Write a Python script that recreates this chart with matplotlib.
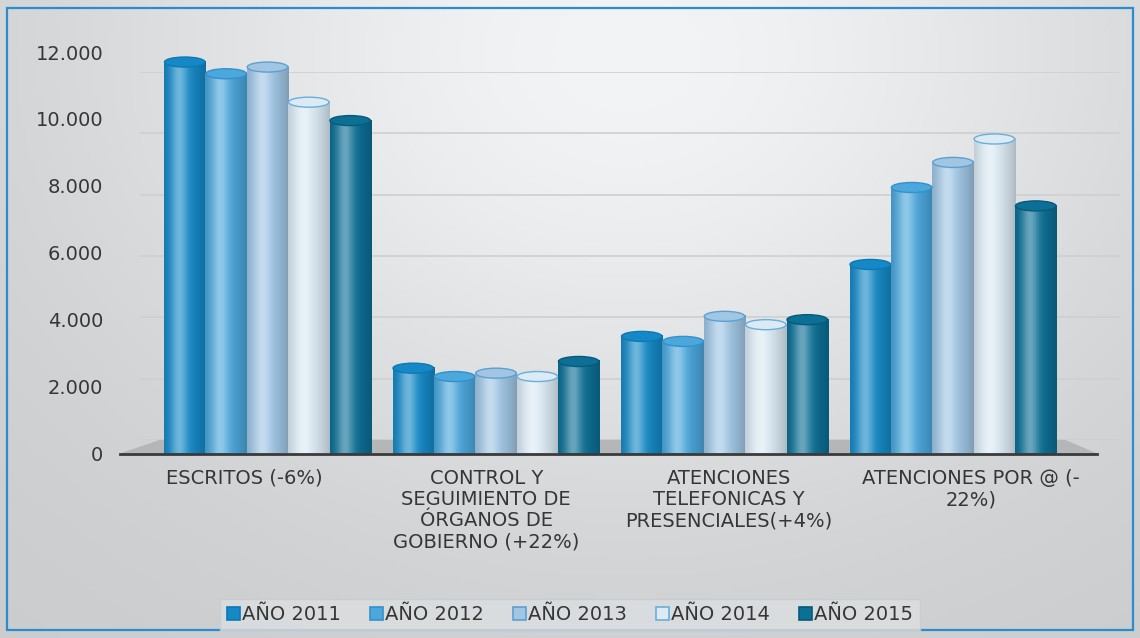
import numpy as np
import matplotlib
matplotlib.use("Agg")
import matplotlib.pyplot as plt
from matplotlib.patches import Ellipse, Polygon, Rectangle, Patch

# --- Datos ---
categorias = ["ESCRITOS (-6%)",
              "CONTROL Y\nSEGUIMIENTO DE\nÓRGANOS DE\nGOBIERNO (+22%)",
              "ATENCIONES\nTELEFONICAS Y\nPRESENCIALES(+4%)",
              "ATENCIONES POR @ (-\n22%)"]
series = ["AÑO 2011", "AÑO 2012", "AÑO 2013", "AÑO 2014", "AÑO 2015"]
v2011 = [11700, 2550, 3500, 5650]
v2012 = [11350, 2300, 3350, 7950]
v2013 = [11550, 2400, 4100, 8700]
v2014 = [10500, 2300, 3850, 9400]
v2015 = [9950, 2750, 4000, 7400]
valores = [v2011, v2012, v2013, v2014, v2015]
yticks = [0, 2000, 4000, 6000, 8000, 10000, 12000]
ytick_labels = ["0", "2.000", "4.000", "6.000", "8.000", "10.000", "12.000"]

colores = ["#1589c6", "#4ba7dc", "#a0c6e4", "#dbeaf4", "#0c6f95"]
bordes = ["#0d78b4", "#3590cc", "#5f9fd0", "#6aaedb", "#075a7a"]
texto = "#363636"

W, H = 1140, 638
fig = plt.figure(figsize=(W / 100, H / 100), dpi=100)

# --- Fondo degradado ---
bg = fig.add_axes([0, 0, 1, 1], zorder=-10)
xx, yy = np.meshgrid(np.linspace(0, 1, 300), np.linspace(0, 1, 200))
v = 0.79 + 0.16 * np.exp(-((xx - 0.55) ** 2 / 0.22 + (yy - 0.92) ** 2 / 0.45))
img = np.dstack([v, v + 0.006, v + 0.012]).clip(0, 1)
bg.imshow(img, extent=[0, 1, 0, 1], origin="lower", aspect="auto")
bg.set_xlim(0, 1)
bg.set_ylim(0, 1)
bg.axis("off")
bg.add_patch(Rectangle((7 / W, 8 / H), 1126 / W, 622 / H, fill=False,
                       edgecolor="#2b8dcd", lw=1.6))

# --- Pared del fondo (rejilla en perspectiva) ---
back = fig.add_axes([140 / W, (H - 440) / H, 980 / W, 368 / H], zorder=-5)
back.patch.set_alpha(0)
back.set_ylim(0, 12000)
back.set_yticks(yticks)
back.set_xticks([])
back.tick_params(left=False, labelleft=False)
back.grid(axis="y", color="#cdcfd1", lw=1.2)
for s in back.spines.values():
    s.set_visible(False)

# --- Eje principal ---
ax = fig.add_axes([120 / W, (H - 453.5) / H, 995 / W, 401.5 / H])
ax.patch.set_alpha(0)
x = np.arange(len(categorias))
ancho = 0.181

# suelo gris
ax.add_patch(Polygon([(0, 0), (0.982, 0), (0.95, 0.034), (0.04, 0.034)],
                     closed=True, transform=ax.transAxes, facecolor="#b4b6b7",
                     edgecolor="none", zorder=0.5))

t = np.linspace(0, 1, 60)
luz = 0.38 * np.exp(-((t - 0.36) / 0.2) ** 2)
sombra = 1 - 0.2 * (np.abs(t - 0.42) / 0.58) ** 1.6
tapa = 300  # alto de la elipse superior en unidades de datos

for i, (vals, c, e) in enumerate(zip(valores, colores, bordes)):
    pos = x + (i - 2) * ancho
    bars = ax.bar(pos, vals, ancho, color=c, edgecolor="none", zorder=2,
                  label=series[i])
    rgb = np.array(matplotlib.colors.to_rgb(c))
    fila = rgb[None, :] * sombra[:, None]
    fila = fila * (1 - luz[:, None]) + luz[:, None]
    grad = fila[None, :, :].clip(0, 1)
    for b in bars:
        x0, h = b.get_x(), b.get_height()
        ax.imshow(grad, extent=[x0, x0 + ancho, 0, h], aspect="auto",
                  zorder=2.1, interpolation="bilinear")
        ax.add_patch(Ellipse((x0 + ancho / 2, h), ancho * 0.98, tapa,
                             facecolor=c, edgecolor=e, lw=1.0, zorder=2.3))
ax.set_xlim(-0.6455, 3.709)
ax.set_ylim(0, 12000)

for s in ["top", "right", "left"]:
    ax.spines[s].set_visible(False)
ax.spines["bottom"].set_color("#3a3a3a")
ax.spines["bottom"].set_linewidth(2)
ax.spines["bottom"].set_bounds(-0.6455, 3.63)
ax.spines["bottom"].set_zorder(3)

ax.set_yticks(yticks)
ax.set_yticklabels(ytick_labels)
ax.set_xticks(x * 1.0604 - 0.103)
ax.set_xticklabels(categorias, linespacing=1.15)
ax.tick_params(axis="y", length=0, pad=12, labelsize=14, labelcolor=texto)
ax.tick_params(axis="x", length=0, pad=11, labelsize=14, labelcolor=texto)

handles = [Patch(facecolor=c, edgecolor=e, lw=1.2) for c, e in zip(colores, bordes)]
leg = fig.legend(handles, series, loc="center", bbox_to_anchor=(0.5, 23 / H),
                 ncol=5, frameon=True, fontsize=14, handlelength=0.67,
                 handleheight=0.67, handletextpad=0.15, columnspacing=1.45,
                 fancybox=False, borderpad=0.35, labelcolor=texto)
leg.get_frame().set_facecolor("#dcdfe1")
leg.get_frame().set_edgecolor("#c8cbce")

fig.savefig("out.png", dpi=100)
